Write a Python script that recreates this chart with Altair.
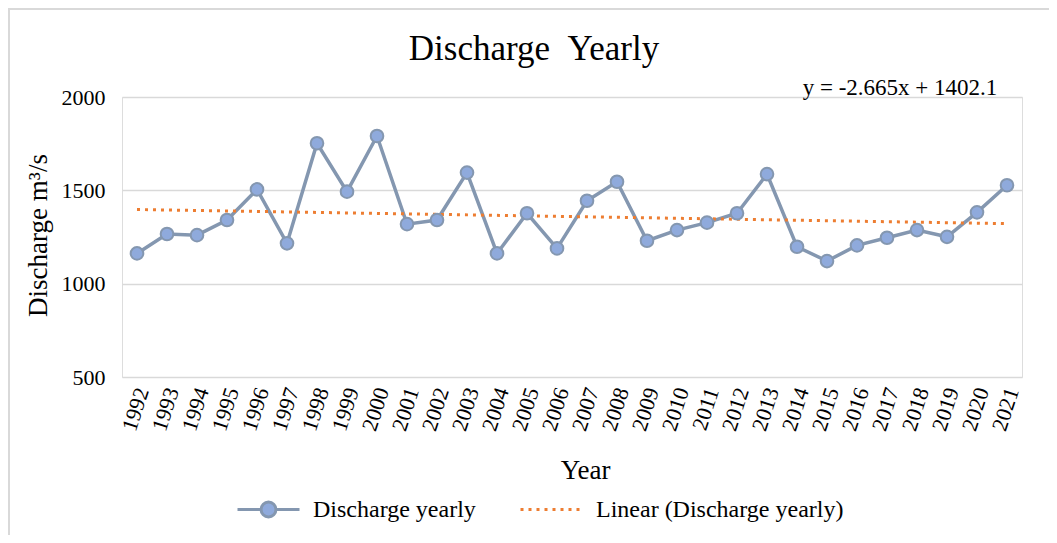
import altair as alt
import pandas as pd

years = list(range(1992, 2022))
discharge = [1162, 1266, 1260, 1341, 1505, 1216, 1752, 1493, 1791, 1319,
             1341, 1595, 1162, 1377, 1189, 1444, 1546, 1230, 1287, 1327,
             1377, 1587, 1198, 1121, 1205, 1246, 1287, 1251, 1382, 1527]
y_ticks = [500, 1000, 1500, 2000]
series_names = ["Discharge yearly", "Linear (Discharge yearly)"]
equation = "y = -2.665x + 1402.1"

df = pd.DataFrame({"Year": years, "Discharge": discharge})

FONT = "Liberation Serif"
LINE_C = "#8497B0"
FILL_C = "#8FAADC"
TREND_C = "#ED7D31"
BORDER_C = "#D9D9D9"

circle_path = ("M-1,0L-0.24,0M0.24,0L1,0"
               "M0.24,0A0.24,0.24,0,1,1,-0.24,0A0.24,0.24,0,1,1,0.24,0Z")

legend_common = dict(
    title=None, orient="none", direction="horizontal",
    labelFont=FONT, labelFontSize=24, labelColor="#000000", labelLimit=500,
    symbolSize=3844, symbolStrokeWidth=3, labelOffset=12,
    symbolOpacity=1,
)
legend_line = alt.Legend(legendX=114, legendY=380, symbolType=circle_path,
                         symbolFillColor=FILL_C, symbolStrokeColor=LINE_C,
                         **legend_common)
legend_trend = alt.Legend(legendX=397, legendY=380, symbolType="stroke",
                          symbolStrokeColor=TREND_C, symbolDash=[3, 5],
                          **legend_common)

x_enc = alt.X(
    "Year:Q",
    scale=alt.Scale(domain=[1991.5, 2021.5], nice=False, zero=False),
    axis=alt.Axis(values=years, format="d", labelAngle=-72, labelPadding=11,
                  labelOffset=5, grid=False, ticks=False, domain=False,
                  labelFont=FONT, labelFontSize=22, labelColor="#000000",
                  labelOverlap=False,
                  title="Year", titleFont=FONT, titleFontSize=27,
                  titleFontWeight="normal", titleColor="#000000",
                  titleX=463, titleY=101, titleBaseline="alphabetic"),
)
y_enc = alt.Y(
    "Discharge:Q",
    scale=alt.Scale(domain=[500, 2000], nice=False, zero=False),
    axis=alt.Axis(values=y_ticks, format="d", grid=True, ticks=False, domain=False,
                  labelFont=FONT, labelFontSize=22, labelColor="#000000",
                  labelPadding=17,
                  title="Discharge m³/s", titleFont=FONT, titleFontSize=27,
                  titleFontWeight="normal", titleColor="#000000",
                  titleX=-76, titleY=138, titleBaseline="alphabetic",
                  gridColor=BORDER_C, gridWidth=1.5),
)

base = alt.Chart(df)

line = base.transform_calculate(series="'" + series_names[0] + "'").mark_line(
    strokeWidth=3.5
).encode(
    x=x_enc, y=y_enc,
    color=alt.Color("series:N",
                    scale=alt.Scale(domain=[series_names[0]], range=[LINE_C]),
                    legend=legend_line),
)
points = base.mark_point(filled=True, size=160, fill=FILL_C, stroke=LINE_C,
                         strokeWidth=2, opacity=1).encode(x=x_enc, y=y_enc)
trend = base.transform_regression("Year", "Discharge").transform_calculate(
    series="'" + series_names[1] + "'"
).mark_line(strokeWidth=3, color=TREND_C).encode(
    x=x_enc, y=y_enc,
    strokeDash=alt.StrokeDash("series:N",
                              scale=alt.Scale(domain=[series_names[1]], range=[[3, 5]]),
                              legend=legend_trend),
)
eq_text = alt.Chart(pd.DataFrame({"t": [equation]})).mark_text(
    font=FONT, fontSize=23, color="#000000", align="center", baseline="alphabetic"
).encode(text="t:N", x=alt.value(778), y=alt.value(-2))

# chart-area frame (top and left edges only, as in the reference crop)
frame_top = alt.Chart(pd.DataFrame({"k": [0]})).mark_rule(
    color=BORDER_C, strokeWidth=2
).encode(x=alt.value(-114), x2=alt.value(927), y=alt.value(-88))
frame_left = alt.Chart(pd.DataFrame({"k": [0]})).mark_rule(
    color=BORDER_C, strokeWidth=2
).encode(x=alt.value(-113), y=alt.value(-89), y2=alt.value(438))

chart = alt.layer(frame_top, frame_left, line, trend, points, eq_text).properties(
    width=900, height=280,
    title=alt.TitleParams("Discharge\u00a0\u00a0Yearly", font=FONT, fontSize=35,
                          fontWeight="normal", color="#000000",
                          anchor="middle", offset=-60, dx=-38),
    autosize=alt.AutoSizeParams(type="none"),
    padding={"left": 114, "top": 89, "right": 27, "bottom": 158},
).configure_view(stroke=None).configure(background="white")

chart.save("out.html", embed_options={"renderer": "svg", "actions": False})
